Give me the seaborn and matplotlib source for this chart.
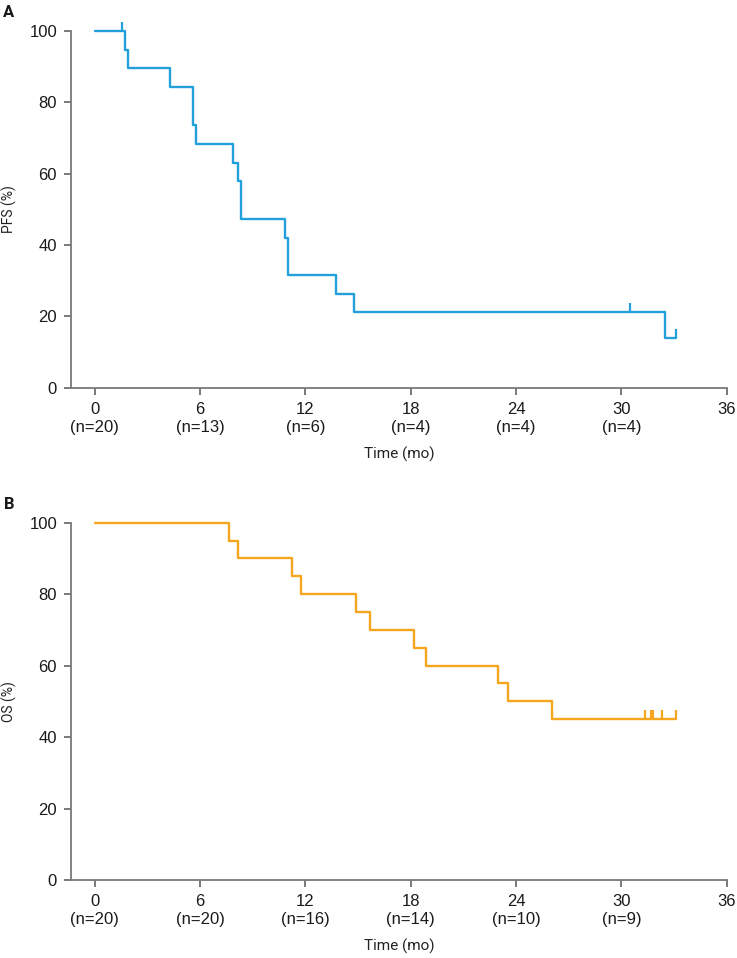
import matplotlib
matplotlib.use("Agg")
import matplotlib.pyplot as plt
import seaborn as sns
import pandas as pd

# ---- data ----
x_ticks = [0, 6, 12, 18, 24, 30, 36]
y_ticks = [0, 20, 40, 60, 80, 100]

pfs_at_risk = ["(n=20)", "(n=13)", "(n=6)", "(n=4)", "(n=4)", "(n=4)", ""]
os_at_risk = ["(n=20)", "(n=20)", "(n=16)", "(n=14)", "(n=10)", "(n=9)", ""]

pfs_time = [0, 1.73, 1.88, 4.29, 5.58, 5.77, 7.86, 8.15, 8.32, 10.84, 11.03, 13.75, 14.79, 32.5, 33.1]
pfs_surv = [100, 94.7, 89.5, 84.2, 73.7, 68.4, 63.1, 57.9, 47.4, 42.1, 31.6, 26.3, 21.1, 14.0, 14.0]
pfs_cens_time = [1.54, 30.5, 33.1]
pfs_cens_surv = [100, 21.1, 14.0]

os_time = [0, 7.67, 8.14, 11.26, 11.76, 14.87, 15.67, 18.18, 18.88, 23.0, 23.55, 26.06, 33.1]
os_surv = [100, 95, 90, 85, 80, 75, 70, 65, 60, 55, 50, 45, 45]
os_cens_time = [31.37, 31.66, 31.8, 32.31, 33.1]
os_cens_surv = [45, 45, 45, 45, 45]

BLUE = "#22A0DC"
ORANGE = "#F6A51E"

sns.set_theme(style="white")
plt.rcParams["font.family"] = ["Liberation Sans", "DejaVu Sans"]

fig = plt.figure(figsize=(7.37, 9.58), dpi=100)
axA = fig.add_axes([71 / 737, 1 - 387.7 / 958, 655.7 / 737, 356.7 / 958])
axB = fig.add_axes([71 / 737, 1 - 880 / 958, 655.7 / 737, 357.3 / 958])


def draw(ax, t, s, ct, cs, color, at_risk, ylabel):
    df = pd.DataFrame({"t": t, "s": s})
    sns.lineplot(data=df, x="t", y="s", ax=ax, color=color, lw=1.7,
                 drawstyle="steps-post", estimator=None, sort=False,
                 clip_on=False)
    cdf = pd.DataFrame({"t": ct, "s": cs})
    sns.scatterplot(data=cdf, x="t", y="s", ax=ax, marker=2, s=45,
                    color=color, linewidth=1.6, clip_on=False, zorder=5)
    ax.set_xlim(-1.35, 36)
    ax.set_ylim(0, 100)
    ax.set_xticks(x_ticks)
    ax.set_xticklabels([f"{v}\n{n}" for v, n in zip(x_ticks, at_risk)],
                       linespacing=1.3)
    ax.set_yticks(y_ticks)
    ax.set_yticklabels([str(v) for v in y_ticks])
    for sp in ["top", "right"]:
        ax.spines[sp].set_visible(False)
    for sp in ["left", "bottom"]:
        ax.spines[sp].set_color("#7a7a7a")
        ax.spines[sp].set_linewidth(1.3)
    ax.tick_params(axis="both", which="major", direction="out", length=5,
                   width=1.1, color="#555555", labelsize=12, labelcolor="#1a1a1a",
                   bottom=True, left=True)
    ax.tick_params(axis="x", pad=5)
    ax.tick_params(axis="y", pad=5)
    ax.set_xlabel("Time (mo)", fontsize=11, family=["Roboto", "DejaVu Sans"],
                  color="#222222", labelpad=8)
    ax.set_ylabel(ylabel, fontsize=10, family=["Roboto", "DejaVu Sans"],
                  color="#222222")
    ax.yaxis.set_label_coords(-0.083, 0.5)
    ax.grid(False)


draw(axA, pfs_time, pfs_surv, pfs_cens_time, pfs_cens_surv, BLUE,
     pfs_at_risk, "PFS (%)")
draw(axB, os_time, os_surv, os_cens_time, os_cens_surv, ORANGE,
     os_at_risk, "OS (%)")

fig.text(3 / 737, 1 - 17 / 958, "A", fontsize=12, fontweight="bold",
         family=["Roboto", "DejaVu Sans"], color="#1a1a1a")
fig.text(4 / 737, 1 - 509 / 958, "B", fontsize=12, fontweight="bold",
         family=["Roboto", "DejaVu Sans"], color="#1a1a1a")

fig.savefig("out.png", dpi=100, facecolor="white")
